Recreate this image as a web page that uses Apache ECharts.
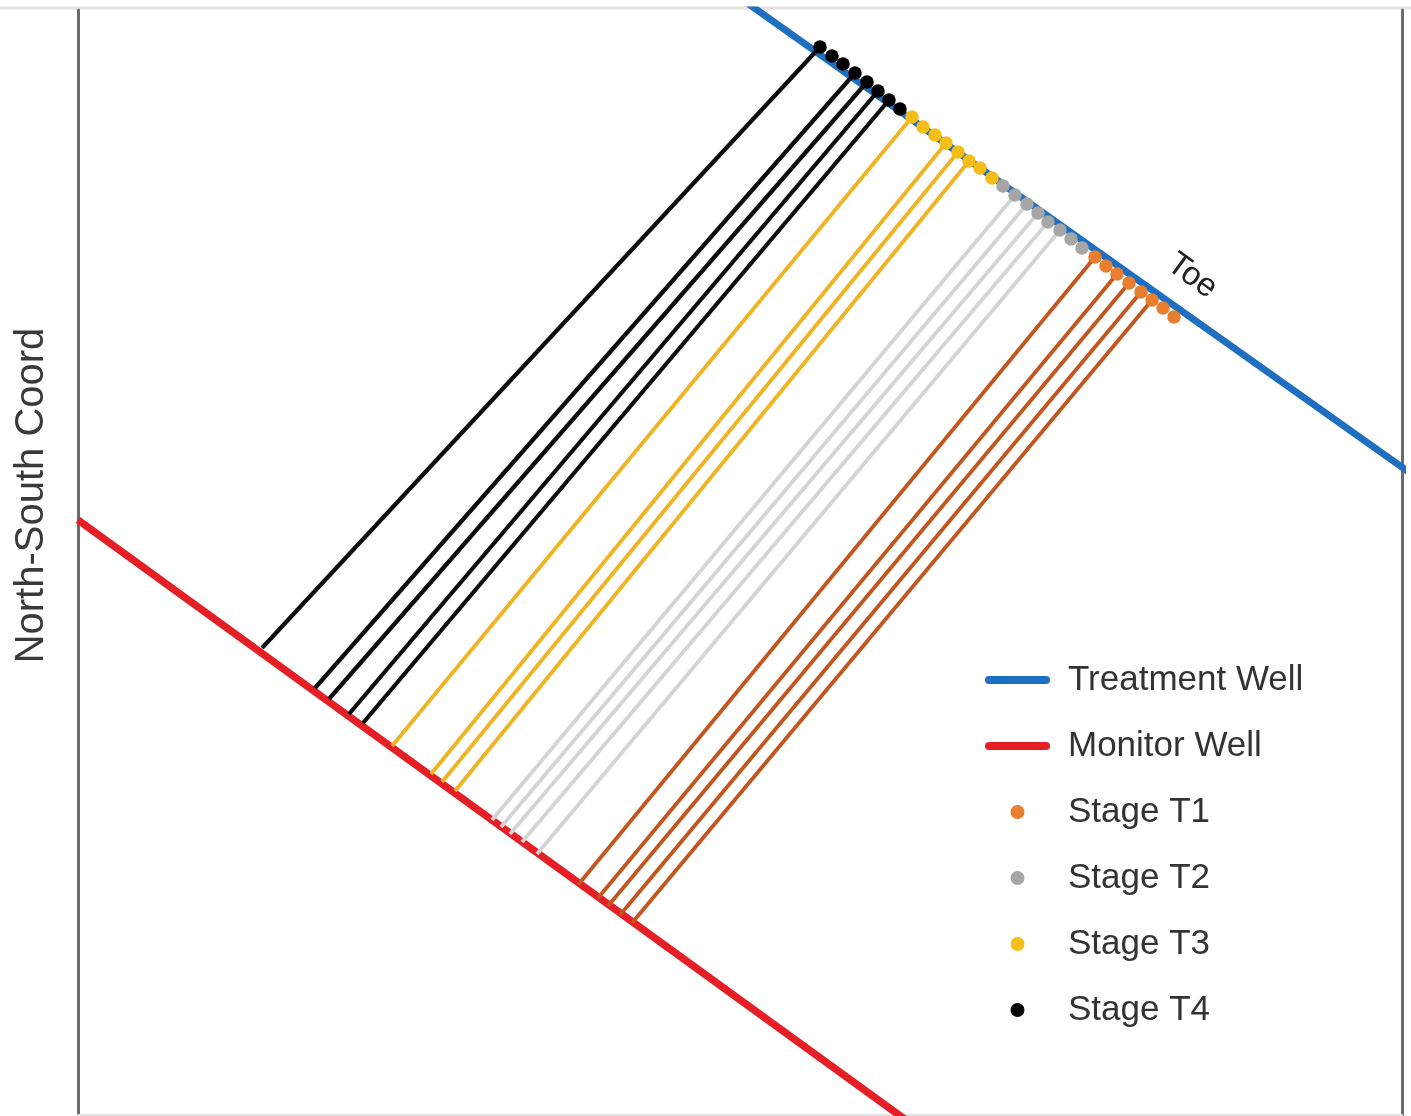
<!DOCTYPE html>
<html>
<head>
<meta charset="utf-8">
<title>Treatment and monitor well — stage connections</title>
<script src="https://cdn.jsdelivr.net/npm/echarts@6/dist/echarts.min.js"></script>
<style>
  html, body { margin: 0; padding: 0; background: #fff; }
  #chart { width: 1411px; height: 1116px; }
</style>
</head>
<body>
<div id="chart"></div>
<script>
// Well traces (map coordinates, east-west / north-south)
const treatmentWellX = [665, 1342];
const treatmentWellY = [1115, 635];
const monitorWellX = [0, 832];
const monitorWellY = [595, -8];

// Stage locations along the treatment well
const stageT1X = [1017, 1028, 1039, 1051, 1063, 1074, 1085, 1096];
const stageT1Y = [858, 849, 841, 832, 823, 815, 807, 798];
const stageT2X = [925, 937, 949, 960, 970, 982, 993, 1004];
const stageT2Y = [929, 920, 911, 902, 893, 885, 876, 867];
const stageT3X = [834, 845, 857, 868, 880, 891, 902, 914];
const stageT3Y = [998, 988, 980, 972, 963, 954, 947, 937];
const stageT4X = [742, 754, 765, 777, 789, 800, 811, 822];
const stageT4Y = [1068, 1059, 1051, 1042, 1033, 1024, 1015, 1006];

// Connections: stage point index -> hit point on the monitor well
const linkT1From = [0, 2, 3, 4, 5];
const linkT1X = [500, 520, 530, 542, 554];
const linkT1Y = [230, 217, 209, 200, 192];
const linkT2From = [1, 2, 3, 4, 5];
const linkT2X = [414, 423, 432, 444, 459];
const linkT2Y = [295, 288, 281, 273, 261];
const linkT3From = [0, 3, 4, 5];
const linkT3X = [314, 353, 364, 377];
const linkT3Y = [369, 341, 333, 324];
const linkT4From = [0, 3, 4, 5, 6];
const linkT4X = [184, 237, 251, 271, 285];
const linkT4Y = [467, 427, 416, 401, 392];

const FONT = 'Liberation Sans, Arial, Helvetica, sans-serif';

function zip(xs, ys) { return xs.map((x, i) => [x, ys[i]]); }

const stages = [
  { name: 'Stage T1', xs: stageT1X, ys: stageT1Y, from: linkT1From, hx: linkT1X, hy: linkT1Y, dot: '#e87e2e', line: '#c2561f', lw: 3.8 },
  { name: 'Stage T2', xs: stageT2X, ys: stageT2Y, from: linkT2From, hx: linkT2X, hy: linkT2Y, dot: '#a6a6a6', line: '#d4d4d4', lw: 3.8 },
  { name: 'Stage T3', xs: stageT3X, ys: stageT3Y, from: linkT3From, hx: linkT3X, hy: linkT3Y, dot: '#f5bd18', line: '#f0b322', lw: 3.8 },
  { name: 'Stage T4', xs: stageT4X, ys: stageT4Y, from: linkT4From, hx: linkT4X, hy: linkT4Y, dot: '#000000', line: '#0d0d0d', lw: 4.2 }
];

const BLUE = '#1f6fc1';
const RED = '#e41f26';

const series = [
  {
    name: 'Treatment Well', type: 'line', data: zip(treatmentWellX, treatmentWellY),
    symbol: 'none', clip: true, z: 2,
    lineStyle: { color: BLUE, width: 7 }, itemStyle: { color: BLUE }
  },
  {
    name: 'Monitor Well', type: 'line', data: zip(monitorWellX, monitorWellY),
    symbol: 'none', clip: true, z: 2,
    lineStyle: { color: RED, width: 7.5 }, itemStyle: { color: RED }
  }
];

stages.forEach(s => {
  series.push({
    type: 'lines', coordinateSystem: 'cartesian2d', silent: true, z: 3,
    lineStyle: { color: s.line, width: s.lw, opacity: 1 },
    data: s.from.map((k, i) => ({ coords: [[s.xs[k], s.ys[k]], [s.hx[i], s.hy[i]]] }))
  });
});
stages.forEach(s => {
  series.push({
    name: s.name, type: 'scatter', symbol: 'circle', symbolSize: 13.5, z: 4,
    itemStyle: { color: s.dot, opacity: 1 },
    data: zip(s.xs, s.ys)
  });
});

// well entries in the legend show only a thick line, no marker
const wellLegend = name => ({
  name: name,
  lineStyle: { width: 8, cap: 'round' },
  itemStyle: { opacity: 0 }
});

const chart = echarts.init(document.getElementById('chart'), null, { renderer: 'canvas' });
chart.setOption({
  animation: false,
  backgroundColor: '#ffffff',
  grid: { left: 78, right: 9, top: 10, bottom: 1, outerBoundsMode: 'none', containLabel: false },
  xAxis: {
    type: 'value', min: 0, max: 1324,
    axisLine: { show: true, lineStyle: { color: '#e2e2e2', width: 2 } },
    axisTick: { show: false }, axisLabel: { show: false }, splitLine: { show: false }
  },
  yAxis: [
    {
      type: 'value', min: 0, max: 1105, position: 'left',
      name: 'North-South Coord', nameLocation: 'middle', nameGap: 26, nameRotate: 90,
      nameTextStyle: { fontSize: 40, color: '#3a3a3a', fontFamily: FONT, padding: [0, 0, 0, 134] },
      axisLine: { show: true, lineStyle: { color: '#6b6b6b', width: 3 } },
      axisTick: { show: false }, axisLabel: { show: false }, splitLine: { show: false }
    },
    {
      type: 'value', min: 0, max: 1105, position: 'right',
      axisLine: { show: true, lineStyle: { color: '#6b6b6b', width: 3 } },
      axisTick: { show: false }, axisLabel: { show: false }, splitLine: { show: false }
    }
  ],
  legend: {
    orient: 'vertical', left: 985, top: 660, padding: 0,
    itemWidth: 57, itemHeight: 14, itemGap: 26,
    data: [wellLegend('Treatment Well'), wellLegend('Monitor Well'), 'Stage T1', 'Stage T2', 'Stage T3', 'Stage T4'],
    textStyle: { fontSize: 35, lineHeight: 40, color: '#333', fontFamily: FONT, padding: [0, 0, 0, 17] },
    selectedMode: false
  },
  graphic: [
    {
      type: 'line', silent: true,
      shape: { x1: 0, y1: 8, x2: 1411, y2: 8 },
      style: { stroke: '#e2e2e2', lineWidth: 3 }
    },
    {
      type: 'text', x: 1192, y: 276, rotation: -0.63, silent: true,
      style: { text: 'Toe', fontSize: 33, fontFamily: FONT, fill: '#222', align: 'center', verticalAlign: 'middle' }
    }
  ],
  series: series
});
</script>
</body>
</html>
